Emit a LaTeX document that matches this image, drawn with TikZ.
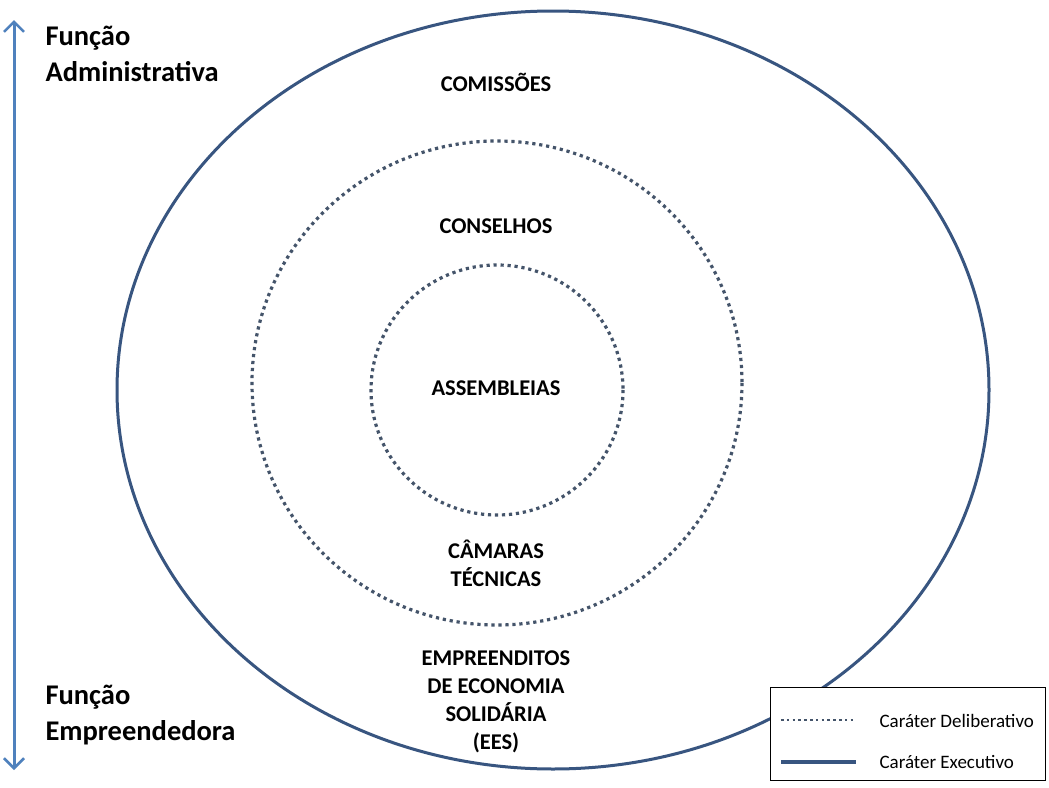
\documentclass[tikz,border=0pt]{standalone}
\usepackage{fontspec}
\setmainfont{Carlito}
\usetikzlibrary{arrows.meta}
\definecolor{arrowblue}{HTML}{4F81BD}
\definecolor{ringblue}{HTML}{385580}
\definecolor{dotblue}{HTML}{44546A}
\tikzset{
  lbl/.style={font=\bfseries\fontsize{22.5}{28}\selectfont, align=center, text=black},
  side/.style={font=\bfseries\fontsize{28.5}{36}\selectfont, align=left, anchor=west, text=black},
  ringsolid/.style={draw=ringblue, line width=3pt},
  ringdot/.style={draw=dotblue, line width=3.2pt, dash pattern=on 3.2pt off 3.8pt},
  legtxt/.style={font=\fontsize{19}{22}\selectfont, anchor=west, text=black}
}
\begin{document}
\begin{tikzpicture}[x=1pt,y=-1pt]
\useasboundingbox (0,0) rectangle (1049,787);
\fill[white] (0,0) rectangle (1049,787);
% rings
\draw[ringsolid] (553,390) ellipse [x radius=436, y radius=379];
\draw[ringdot] (497,383) ellipse [x radius=245, y radius=242];
\draw[ringdot] (497,390) ellipse [x radius=126, y radius=125];
% axis arrow
\coordinate (atop) at (14,20);
\coordinate (abot) at (14,770);
\draw[draw=arrowblue, line width=3pt, {Straight Barb[length=10pt,width=20pt,line width=2.5pt]}-{Straight Barb[length=10pt,width=20pt,line width=2.5pt]}] (atop) -- (abot);
\node[side] (fadm) at (42,54) {Função\\Administrativa};
\node[side] (femp) at (42,715) {Função\\Empreendedora};
% labels
\node[lbl] (com) at (496,82) {COMISSÕES};
\node[lbl] (cons) at (496,226) {CONSELHOS};
\node[lbl] (ass) at (496,388) {ASSEMBLEIAS};
\node[lbl] (cam) at (496,563) {CÂMARAS\\TÉCNICAS};
\node[lbl] (ees) at (496,702) {EMPREENDITOS\\DE ECONOMIA\\SOLIDÁRIA\\(EES)};
% legend
\node[draw=black, fill=white, line width=0.8pt, minimum width=275pt, minimum height=93pt, anchor=north west, inner sep=0pt] (leg) at (770,687) {};
\coordinate (d1) at (781,720);
\coordinate (d2) at (856,720);
\coordinate (s1) at (781,762);
\coordinate (s2) at (856,762);
\draw[draw=dotblue, line width=2.6pt, dash pattern=on 2.6pt off 3.2pt] (d1) -- (d2);
\draw[draw=ringblue, line width=3.2pt] (s1) -- (s2);
\node[legtxt] (ldel) at (876,721) {Caráter Deliberativo};
\node[legtxt] (lexe) at (876,762) {Caráter Executivo};
\end{tikzpicture}
\end{document}
